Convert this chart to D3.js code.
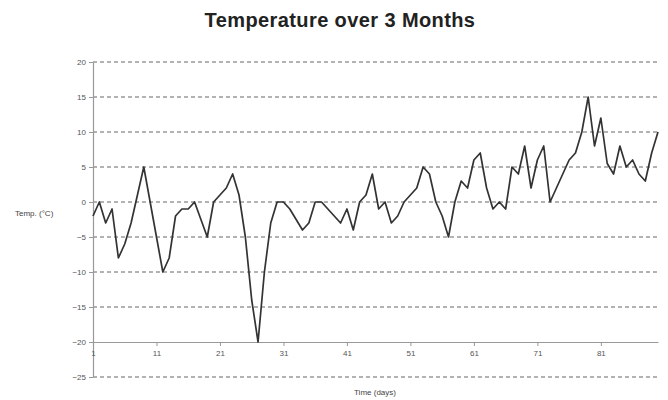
<!DOCTYPE html>
<html>
<head>
<meta charset="utf-8">
<script src="https://cdn.jsdelivr.net/npm/d3@7"></script>
<style>
  body { margin: 0; background: #fff; }
  svg { font-family: "Liberation Sans", Arial, sans-serif; }
</style>
</head>
<body>
<svg id="chart"></svg>
<script>
// Data
const days = d3.range(1, 91);
const temps = [
  -2, 0, -3, -1, -8, -6, -3, 1, 5, 0,
  -5, -10, -8, -2, -1, -1, 0, -2.5, -5, 0,
  1, 2, 4, 1, -5, -14, -20, -10, -3, 0,
  0, -1, -2.5, -4, -3, 0, 0, -1, -2, -3,
  -1, -4, 0, 1, 4, -1, 0, -3, -2, 0,
  1, 2, 5, 4, 0, -2, -5, 0, 3, 2,
  6, 7, 2, -1, 0, -1, 5, 4, 8, 2,
  6, 8, 0, 2, 4, 6, 7, 10, 15, 8,
  12, 5.5, 4, 8, 5, 6, 4, 3, 7, 10
];
const yTicks = [20, 15, 10, 5, 0, -5, -10, -15, -20, -25];
const xTicks = [1, 11, 21, 31, 41, 51, 61, 71, 81];

const W = 668, H = 400;
const margin = { top: 62, right: 10, bottom: 23, left: 93 };

const svg = d3.select("#chart")
    .attr("width", W)
    .attr("height", H);

const x = d3.scaleLinear()
    .domain([1, 90])
    .range([margin.left, W - margin.right]);

const y = d3.scaleLinear()
    .domain([-25, 20])
    .range([H - margin.bottom, margin.top]);

// Title
svg.append("text")
    .attr("x", 340)
    .attr("y", 27)
    .attr("text-anchor", "middle")
    .attr("font-size", 20)
    .attr("font-weight", "bold")
    .attr("letter-spacing", 0.4)
    .attr("fill", "#222")
    .text("Temperature over 3 Months");

// Dashed gridlines (the -20 line is the x axis)
svg.append("g")
  .selectAll("line")
  .data(yTicks.filter(d => d !== -20))
  .enter().append("line")
    .attr("x1", x(1))
    .attr("x2", x(90))
    .attr("y1", d => y(d))
    .attr("y2", d => y(d))
    .attr("stroke", "#666")
    .attr("stroke-width", 1)
    .attr("stroke-dasharray", "4,3");

// Y axis
const yAxisGroup = svg.append("g")
    .attr("transform", `translate(${margin.left},0)`)
    .call(d3.axisLeft(y).tickValues(yTicks).tickSize(4).tickSizeOuter(0));

// X axis sits at -20
const xAxisGroup = svg.append("g")
    .attr("transform", `translate(0,${y(-20)})`)
    .call(d3.axisBottom(x).tickValues(xTicks).tickSize(4).tickSizeOuter(0));

[yAxisGroup, xAxisGroup].forEach(g => {
  g.select(".domain").attr("stroke", "#999").attr("stroke-width", 1.2);
  g.selectAll(".tick line").attr("stroke", "#999");
  g.selectAll(".tick text")
      .attr("fill", "#555")
      .attr("font-size", 8)
      .attr("font-family", "Liberation Sans, Arial, sans-serif");
});
xAxisGroup.selectAll(".tick text").attr("dy", "0.9em");

// Axis labels
svg.append("text")
    .attr("x", 15)
    .attr("y", 216)
    .attr("font-size", 8)
    .attr("fill", "#444")
    .text("Temp. (\u00B0C)");

svg.append("text")
    .attr("x", 375)
    .attr("y", 395)
    .attr("text-anchor", "middle")
    .attr("font-size", 8)
    .attr("fill", "#444")
    .text("Time (days)");

// Temperature line
const line = d3.line()
    .x((d, i) => x(days[i]))
    .y(d => y(d));

svg.append("path")
    .datum(temps)
    .attr("fill", "none")
    .attr("stroke", "#333")
    .attr("stroke-width", 1.7)
    .attr("stroke-linejoin", "round")
    .attr("d", line);
</script>
</body>
</html>
